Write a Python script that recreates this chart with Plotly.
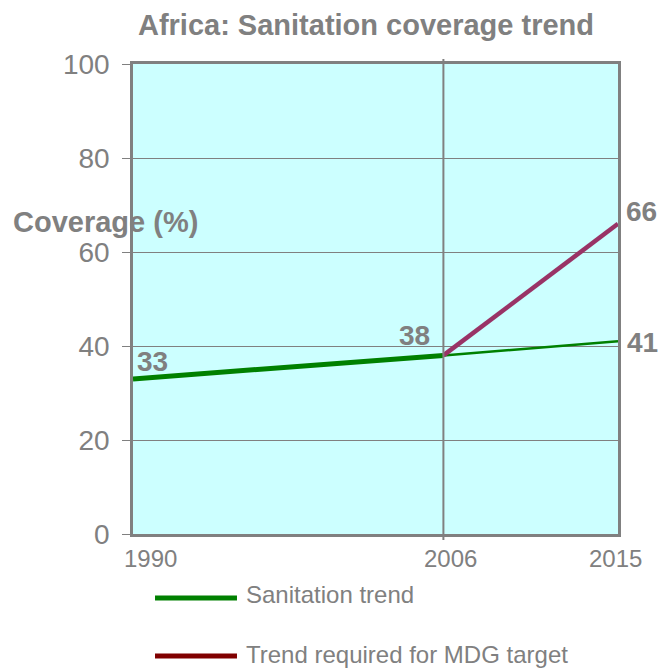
import plotly.graph_objects as go

years_trend = [1990, 2006, 2015]
trend_values = [33, 38, 41]
years_target = [2006, 2015]
target_values = [38, 66]
series_names = ["Sanitation trend", "Trend required for MDG target"]
x_ticks = [1990, 2006, 2015]
y_ticks = [0, 20, 40, 60, 80, 100]

GRAY = "#808080"
FONT = "Liberation Sans, Arial, sans-serif"
GREEN = "#008000"
PURPLE = "#993366"
DARKRED = "#800000"

fig = go.Figure()

# thick historical segment
fig.add_trace(go.Scatter(x=years_trend[:2], y=trend_values[:2], mode="lines",
                         line=dict(color=GREEN, width=5), showlegend=False, hoverinfo="skip"))
# thinner projected segment
fig.add_trace(go.Scatter(x=years_trend[1:], y=trend_values[1:], mode="lines",
                         line=dict(color=GREEN, width=2.5), showlegend=False, hoverinfo="skip"))
# required trend
fig.add_trace(go.Scatter(x=years_target, y=target_values, mode="lines",
                         line=dict(color=PURPLE, width=4.5), showlegend=False, hoverinfo="skip"))

# vertical 2006 line extending beyond plot area
fig.add_shape(type="line", xref="x", yref="paper", x0=x_ticks[1], x1=x_ticks[1],
              y0=-0.0128, y1=1.0106, line=dict(color=GRAY, width=2), layer="above")

# data labels
labels = [
    (years_trend[0], trend_values[0], "left", 2, 17),
    (years_trend[1], trend_values[1], "right", -11, 19.5),
    (years_target[1], target_values[1], "left", 6, 12),
    (years_trend[2], trend_values[2], "left", 7, -1),
]
for x, y, xa, xs, ys in labels:
    fig.add_annotation(x=x, y=y, xref="x", yref="y", text=f"<b>{y}</b>", showarrow=False,
                       xanchor=xa, yanchor="middle", xshift=xs, yshift=ys,
                       font=dict(family=FONT, size=28, color=GRAY))

# x tick labels
x_shifts = [17, 7, -3]
for xv, xs in zip(x_ticks, x_shifts):
    fig.add_annotation(x=xv, y=-0.0521, xref="x", yref="paper", text=str(xv), showarrow=False,
                       xanchor="center", yanchor="middle", xshift=xs,
                       font=dict(family=FONT, size=24, color=GRAY))

# y axis title
fig.add_annotation(xref="paper", yref="paper", x=-0.2515, y=0.6638, text="<b>Coverage (%)</b>",
                   showarrow=False, xanchor="left", yanchor="middle",
                   font=dict(family=FONT, size=29, color=GRAY))

# legend
leg_colors = [GREEN, DARKRED]
leg_line_y = [-0.1362, -0.2596]
leg_text_y = [-0.1287, -0.2574]
for name, c, ly, ty in zip(series_names, leg_colors, leg_line_y, leg_text_y):
    fig.add_shape(type="line", xref="paper", yref="paper", x0=0.0454, x1=0.2144, y0=ly, y1=ly,
                  line=dict(color=c, width=5))
    fig.add_annotation(xref="paper", yref="paper", x=0.2289, y=ty, text=name, showarrow=False,
                       xanchor="left", yanchor="middle",
                       font=dict(family=FONT, size=24, color=GRAY))

fig.update_layout(
    width=663, height=671,
    margin=dict(l=133, r=45, t=64, b=137),
    paper_bgcolor="white", plot_bgcolor="#CCFFFF",
    showlegend=False,
    title=dict(text="<b>Africa: Sanitation coverage trend</b>", xref="paper", x=0.4804,
               xanchor="center", yref="container", y=0.9635, yanchor="middle",
               font=dict(family=FONT, size=29, color=GRAY)),
    xaxis=dict(range=[1990, 2015], tickvals=x_ticks, showticklabels=False,
               showgrid=False, zeroline=False, showline=True, mirror=True,
               linecolor=GRAY, linewidth=2.5, ticks=""),
    yaxis=dict(range=[0, 100], tickvals=y_ticks, showgrid=True, gridcolor=GRAY, gridwidth=1,
               zeroline=False, showline=True, mirror=True, linecolor=GRAY, linewidth=2.5,
               ticks="outside", ticklen=8, tickcolor=GRAY, tickwidth=1, ticklabelstandoff=7,
               tickfont=dict(family=FONT, size=28, color=GRAY)),
)

fig.write_html("out.html", config={"displayModeBar": False},
               post_script="document.body.style.margin='0';document.body.style.overflow='hidden';")
